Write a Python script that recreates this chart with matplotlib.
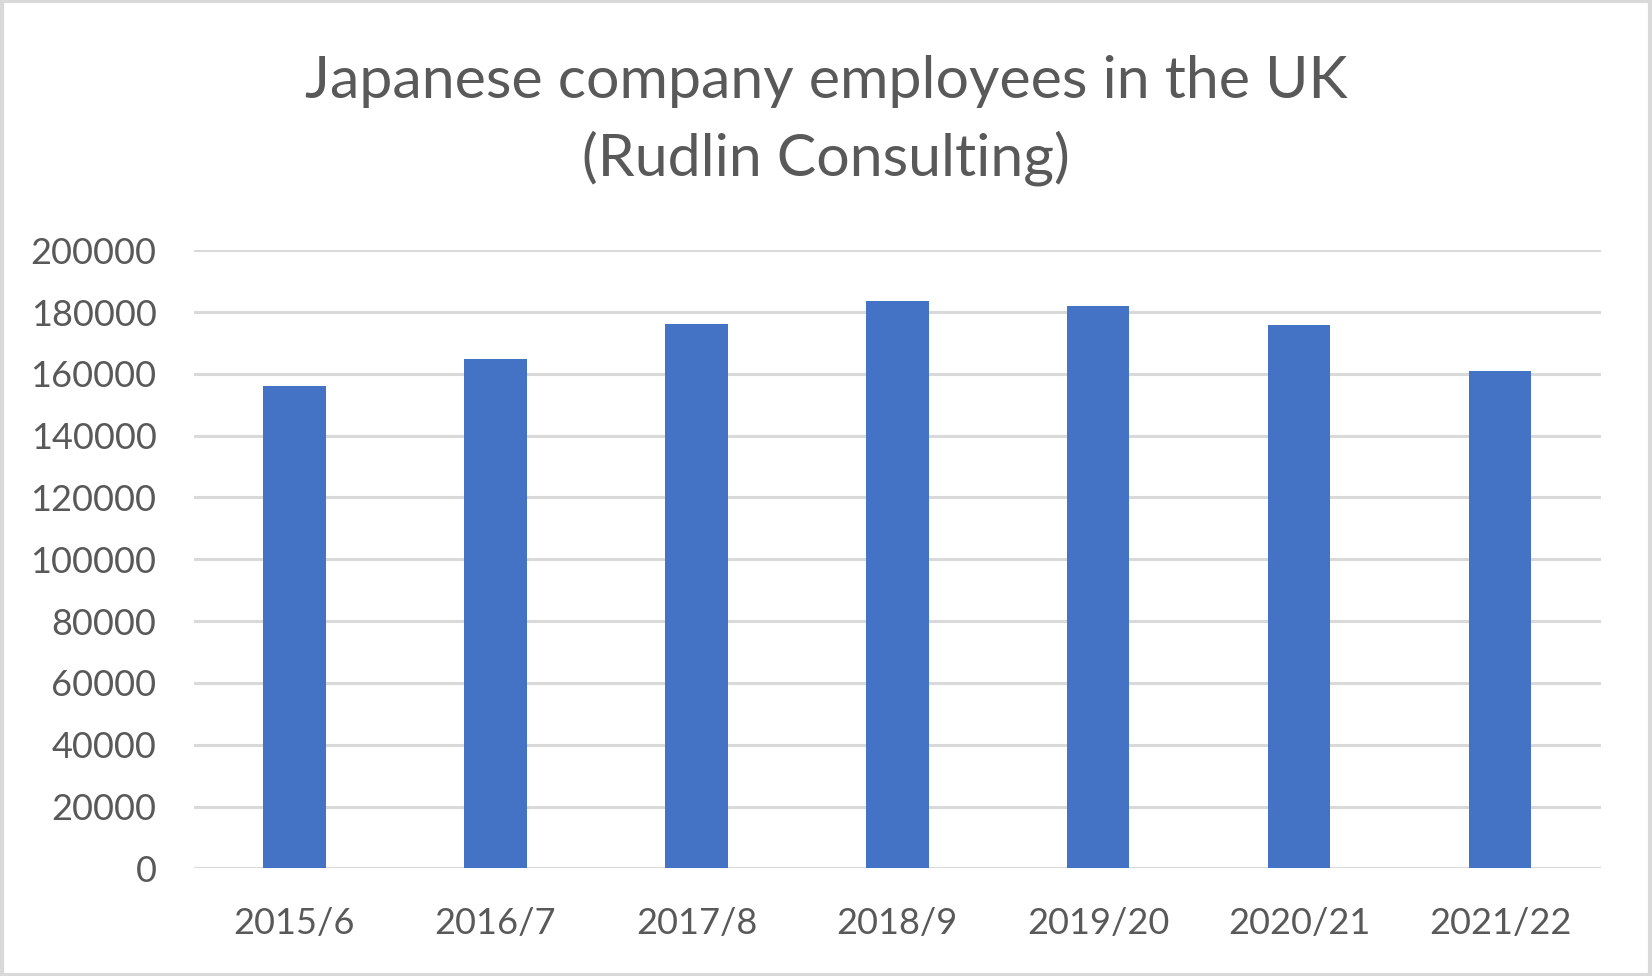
import matplotlib
matplotlib.use("Agg")
import matplotlib.pyplot as plt
from matplotlib.patches import Rectangle

categories = ["2015/6", "2016/7", "2017/8", "2018/9", "2019/20", "2020/21", "2021/22"]
employees = [156000, 164700, 176000, 183500, 181900, 175700, 160800]
yticks = [0, 20000, 40000, 60000, 80000, 100000, 120000, 140000, 160000, 180000, 200000]

plt.rcParams['font.family'] = ['Lato', 'DejaVu Sans']
text_color = "#595959"

fig = plt.figure(figsize=(16.52, 9.76), dpi=100)
ax = fig.add_axes([0.1174, 0.1103, 0.8516, 0.6333])

x = range(len(categories))
ax.bar(x, employees, width=0.31, color="#4472C4", zorder=3)
ax.set_xlim(-0.5, len(categories) - 0.5)
ax.set_ylim(0, 200000)
ax.set_yticks(yticks)
ax.set_yticklabels([str(v) for v in yticks])
ax.set_xticks(list(x))
ax.set_xticklabels(categories)
ax.grid(axis="y", color="#D9D9D9", linewidth=2.2, zorder=0)
for s in ax.spines.values():
    s.set_visible(False)
ax.tick_params(axis="both", length=0, labelsize=26, colors=text_color)
ax.tick_params(axis="y", pad=27)
ax.tick_params(axis="x", pad=28)

fig.text(0.5, 0.917, "Japanese company employees in the UK", ha="center", va="center",
         fontsize=42.5, color=text_color)
fig.text(0.5, 0.838, "(Rudlin Consulting)", ha="center", va="center",
         fontsize=42.5, color=text_color)

fig.patches.append(Rectangle((0.001, 0.001), 0.998, 0.998, transform=fig.transFigure,
                             fill=False, edgecolor="#D9D9D9", linewidth=3))

fig.savefig("out.png", dpi=100)
